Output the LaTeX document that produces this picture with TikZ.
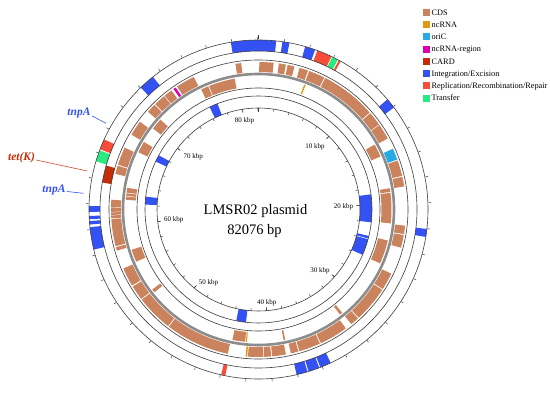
\documentclass[tikz,border=0pt]{standalone}
\usepackage{fontspec}
\setmainfont{Liberation Serif}
\definecolor{cds}{RGB}{202,131,92}
\definecolor{ncrna}{RGB}{224,152,16}
\definecolor{oric}{RGB}{40,170,228}
\definecolor{ncreg}{RGB}{222,0,170}
\definecolor{card}{RGB}{196,45,8}
\definecolor{integ}{RGB}{52,82,244}
\definecolor{repl}{RGB}{246,76,56}
\definecolor{transf}{RGB}{40,234,128}
\definecolor{ringline}{RGB}{60,60,60}
\definecolor{bbone}{RGB}{140,140,140}
\newcommand\bandarc[5]{\fill[#5] (90-#1:#3pt) arc[start angle={90-#1}, end angle={90-#2}, radius=#3pt] -- (90-#2:#4pt) arc[start angle={90-#2}, end angle={90-#1}, radius=#4pt] -- cycle;}
\newcommand\mobF[3]{\bandarc{#1}{#2}{158.5}{169.5}{#3}}
\newcommand\cardF[3]{\bandarc{#1}{#2}{149.5}{158.5}{#3}}
\newcommand\cdsF[3]{\bandarc{#1}{#2}{137.5}{147.5}{#3}}
\newcommand\cdsR[3]{\bandarc{#1}{#2}{123}{133}{#3}}
\newcommand\mobR[3]{\bandarc{#1}{#2}{101.5}{113.5}{#3}}
\begin{document}
\begin{tikzpicture}[x=1pt,y=1pt,
  ring/.style={draw=ringline,line width=0.6pt},
  tickmark/.style={draw=ringline,line width=0.5pt},
  scalelab/.style={font=\fontsize{7}{8}\selectfont,inner sep=0pt},
  legtext/.style={font=\fontsize{8.3}{10}\selectfont,inner sep=0pt,anchor=base west},
  genelab/.style={font=\fontsize{11.5}{13}\selectfont\bfseries\itshape,inner sep=0pt}]
\useasboundingbox (0,0) rectangle (550,-393);
\fill[white] (0,0) rectangle (550,-393);
\begin{scope}[shift={(258.5,-209.5)}]
% mobile forward
\foreach \a/\b in {350.6/366,8.1/10.5,16/19.5,49.5/53,96.6/99.3,154.8/158.6,159/162.8,163.2/167,256.3/264,264.9/266.1,266.7/267.8,269.2/271.2,316/321.5}{\mobF{\a}{\b}{integ}}
\foreach \a/\b in {20.3/25.5,28.3/29.0,191.3/192.7,290.8/294.4}{\mobF{\a}{\b}{repl}}
\foreach \a/\b in {25.8/27.9,286.5/290.4}{\mobF{\a}{\b}{transf}}
% CARD
\cardF{279.8}{286.1}{card}
% CDS forward
\foreach \a/\b in {0.3/5.9,7.95/10.7,11.4/14.1,16.2/19.6,20.1/26.5,26.9/48.9,49.3/54.8,55.1/61.2,70.6/76.8,77.2/81,96.3/99.6,100/105,115.8/122.6,123.0/137.2,137.6/141,143.7/155.0,155.4/163.9,164.3/167.3,169.3/174.7,175.1/177.8,178.1/184.1,192/217.4,217.8/232.3,232.7/238.5,239/246.4,253.8/255.2,255.6/266.3,266.6/267.7,267.9/268.9,269.1/270.8,271.0/273.8,284/287.3,287.7/294.8,300.5/306.5,311.5/315.2,315.6/320.2,320.5/323.8,326.5/334,351/353.25}{\cdsF{\a}{\b}{cds}}
\cdsF{65.7}{70.2}{oric}
\cdsF{184.4}{185.0}{ncrna}
\cdsF{324.8}{325.8}{ncreg}
% CDS reverse
\foreach \a/\b in {60.8/66.5,80.8/82.4,82.8/96,103.5/113.9,141/142.2,168.4/169.1,185.8/191.3,231.5/233,246.9/252.4,274.2/275.6,275.9/277.0,277.3/279.4,295.5/300.5,307.5/312.5,334.5/337.8,338.2/349.7}{\cdsR{\a}{\b}{cds}}
\cdsR{20.1}{20.7}{ncrna}
\cdsR{185.0}{185.5}{ncrna}
% mobile reverse
\foreach \a/\b in {82.3/96.5,103.5/104.8,105.2/113.5,186.3/191.3,272.5/276.5,295/298.5,334.5/338.8}{\mobR{\a}{\b}{integ}}
% rings
\foreach \r in {169.5,158.5,149.5,121.5,113.5,101.5}{\draw[ring] (0,0) circle[radius=\r pt];}
\draw[bbone,line width=2.6pt] (0,0) circle[radius=135.5pt];
% ticks
\foreach \k in {2,4,...,82}{
  \draw[tickmark] ({90-\k*4.38618}:101.5pt) -- ({90-\k*4.38618}:99pt);
  \draw[tickmark] ({90-\k*4.38618}:170pt) -- ({90-\k*4.38618}:172.5pt);
}
\foreach \k in {10,20,...,80}{
  \draw[tickmark] ({90-\k*4.38618}:101.5pt) -- ({90-\k*4.38618}:98pt);
}
\draw[tickmark,line width=1.1pt] (90:101.5pt) -- (90:97.5pt);
\draw[tickmark,line width=1.1pt] (90:170pt) -- (90:174pt);
% scale labels
\node[scalelab] (k10) at ({90-42}:84.5pt) {10 kbp};
\node[scalelab] (k20) at ({90-88}:85pt) {20 kbp};
\node[scalelab] (k30) at ({90-135}:86.8pt) {30 kbp};
\node[scalelab] (k40) at ({90-175}:94pt) {40 kbp};
\node[scalelab] (k50) at ({90-214.4}:88.7pt) {50 kbp};
\node[scalelab] (k60) at ({90-263}:85.5pt) {60 kbp};
\node[scalelab] (k70) at ({90-309}:84pt) {70 kbp};
\node[scalelab] (k80) at ({90-351}:90pt) {80 kbp};
\end{scope}
% centre title
\node[font=\fontsize{14.5}{17}\selectfont,inner sep=0pt,anchor=base] (title) at (255.5,-215) {LMSR02 plasmid};
\node[font=\fontsize{14.5}{17}\selectfont,inner sep=0pt,anchor=base] (size) at (254.5,-235) {82076 bp};
% gene labels
\node[genelab,text=integ] (tnpa1) at (79,-113) {tnpA};
\node[genelab,text=card] (tetk) at (21.5,-158) {tet(K)};
\node[genelab,text=integ] (tnpa2) at (54,-189.5) {tnpA};
\coordinate (e1) at (106,-123.3);
\coordinate (e2) at (87.3,-171);
\coordinate (e3) at (83.3,-193.3);
\draw[integ,line width=0.6pt] (tnpa1.east) ++(1.5,-3) -- (e1);
\draw[card!85!white,line width=0.6pt] (tetk.east) ++(1,-2) -- (e2);
\draw[integ,line width=0.6pt] (tnpa2.east) ++(1.5,-2) -- (e3);
% legend
\foreach \i/\c in {0/cds,1/ncrna,2/oric,3/ncreg,4/card,5/integ,6/repl,7/transf}{
  \fill[\c] (422.5,{-12.5-12.23*\i+3.5}) rectangle ++(7,-7);
}
\node[legtext] (l0) at (431.5,{-12.5-12.23*0-2.8}) {CDS};
\node[legtext] (l1) at (431.5,{-12.5-12.23*1-2.8}) {ncRNA};
\node[legtext] (l2) at (431.5,{-12.5-12.23*2-2.8}) {oriC};
\node[legtext] (l3) at (431.5,{-12.5-12.23*3-2.8}) {ncRNA-region};
\node[legtext] (l4) at (431.5,{-12.5-12.23*4-2.8}) {CARD};
\node[legtext] (l5) at (431.5,{-12.5-12.23*5-2.8}) {Integration/Excision};
\node[legtext] (l6) at (431.5,{-12.5-12.23*6-2.8}) {Replication/Recombination/Repair};
\node[legtext] (l7) at (431.5,{-12.5-12.23*7-2.8}) {Transfer};
\end{tikzpicture}
\end{document}
